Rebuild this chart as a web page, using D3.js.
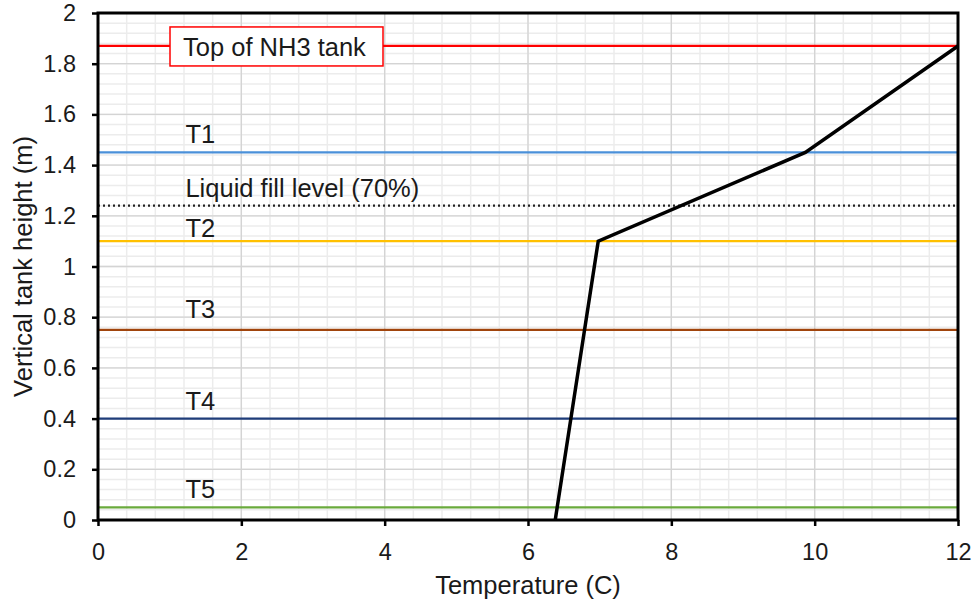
<!DOCTYPE html>
<html>
<head>
<meta charset="utf-8">
<script src="https://cdn.jsdelivr.net/npm/d3@7"></script>
<style>
body { margin: 0; background: #fff; }
text { font-family: "Liberation Sans", Arial, sans-serif; fill: #1a1a1a; }
</style>
</head>
<body>
<svg id="chart"></svg>
<script>
// profile data (temperature vs height)
var profileTemp = [6.38, 6.98, 9.87, 12];
var profileHeight = [0, 1.1, 1.45, 1.87];

// reference levels
var levelNames = ["Top of NH3 tank", "T1", "Liquid fill level (70%)", "T2", "T3", "T4", "T5"];
var levelHeights = [1.87, 1.45, 1.24, 1.1, 0.75, 0.4, 0.05];
var levelColors = ["#ff0000", "#4a90d9", "#000000", "#ffc000", "#a0440c", "#1f3d7a", "#6aaa3c"];

var xTicks = [0, 2, 4, 6, 8, 10, 12];
var yTicks = [0, 0.2, 0.4, 0.6, 0.8, 1, 1.2, 1.4, 1.6, 1.8, 2];

var width = 973, height = 605;
var margin = {top: 13, right: 15, bottom: 85, left: 98};
var w = width - margin.left - margin.right;
var h = height - margin.top - margin.bottom;

// label gap above each level line (px)
var labelGap = [0, 9, 9, 4, 12, 9, 9];

var svg = d3.select("#chart").attr("width", width).attr("height", height);
var chart = svg.append("g").attr("transform", "translate(" + margin.left + "," + margin.top + ")");

var x = d3.scaleLinear().domain([0, 12]).range([0, w]);
var y = d3.scaleLinear().domain([0, 2]).range([h, 0]);

// minor grid
chart.append("g").selectAll("line").data(d3.range(0, 12.001, 0.4)).enter().append("line")
    .attr("x1", function(d) { return x(d); }).attr("x2", function(d) { return x(d); })
    .attr("y1", 0).attr("y2", h)
    .style("stroke", "#ececec").style("stroke-width", 1.5);
chart.append("g").selectAll("line").data(d3.range(0, 2.001, 0.04)).enter().append("line")
    .attr("y1", function(d) { return y(d); }).attr("y2", function(d) { return y(d); })
    .attr("x1", 0).attr("x2", w)
    .style("stroke", "#ececec").style("stroke-width", 1.5);

// major grid
chart.append("g").selectAll("line").data(xTicks).enter().append("line")
    .attr("x1", function(d) { return x(d); }).attr("x2", function(d) { return x(d); })
    .attr("y1", 0).attr("y2", h)
    .style("stroke", "#d4d4d4").style("stroke-width", 1.3);
chart.append("g").selectAll("line").data(yTicks).enter().append("line")
    .attr("y1", function(d) { return y(d); }).attr("y2", function(d) { return y(d); })
    .attr("x1", 0).attr("x2", w)
    .style("stroke", "#d4d4d4").style("stroke-width", 1.3);

// level lines
levelNames.forEach(function(name, i) {
    var ln = chart.append("line")
        .attr("x1", 0).attr("x2", w)
        .attr("y1", y(levelHeights[i])).attr("y2", y(levelHeights[i]))
        .style("stroke", levelColors[i]).style("stroke-width", 2.2);
    if (i == 2) ln.style("stroke-dasharray", "2,3").style("stroke", "#222");
});

// profile line
var pts = profileTemp.map(function(t, i) { return {t: t, h: profileHeight[i]}; });
chart.append("path")
    .datum(pts)
    .attr("d", d3.line().x(function(d) { return x(d.t); }).y(function(d) { return y(d.h); }))
    .style("fill", "none").style("stroke", "#000").style("stroke-width", 3.5)
    .style("stroke-linejoin", "miter");

// level labels
levelNames.forEach(function(name, i) {
    if (i == 0) {
        var g = chart.append("g");
        g.append("rect")
            .attr("x", 72).attr("y", y(levelHeights[i]) - 19)
            .attr("width", 213).attr("height", 39)
            .style("fill", "#fff").style("stroke", "#ff0000").style("stroke-width", 1.5);
        g.append("text")
            .attr("x", 85).attr("y", y(levelHeights[i]) + 10)
            .style("font-size", "25.5px")
            .text(name);
    } else {
        chart.append("text")
            .attr("x", x(1.22))
            .attr("y", y(levelHeights[i]) - labelGap[i])
            .style("font-size", "25.5px")
            .text(name);
    }
});

// axes
var xAxis = d3.axisBottom(x).tickValues(xTicks).tickSize(6).tickPadding(17).tickFormat(d3.format("d"));
var yAxis = d3.axisLeft(y).tickValues(yTicks).tickSize(6).tickPadding(16).tickFormat(function(d) { return d3.format("")(+d.toFixed(1)); });

var gx = chart.append("g").attr("transform", "translate(0," + h + ")").call(xAxis);
var gy = chart.append("g").call(yAxis);
[gx, gy].forEach(function(g) {
    g.select(".domain").remove();
    g.selectAll("line").style("stroke", "#000").style("stroke-width", 2.5);
    g.selectAll("text").style("font-size", "23.5px").style("font-family", "Liberation Sans, Arial, sans-serif").style("fill", "#1a1a1a");
});

// frame
chart.append("rect")
    .attr("x", 0).attr("y", 0).attr("width", w).attr("height", h)
    .style("fill", "none").style("stroke", "#000").style("stroke-width", 3);

// axis titles
chart.append("text")
    .attr("x", w / 2).attr("y", h + 74)
    .style("text-anchor", "middle").style("font-size", "25.5px")
    .text("Temperature (C)");
chart.append("text")
    .attr("transform", "rotate(-90)")
    .attr("x", -h / 2).attr("y", -66)
    .style("text-anchor", "middle").style("font-size", "25.5px")
    .text("Vertical tank height (m)");
</script>
</body>
</html>
